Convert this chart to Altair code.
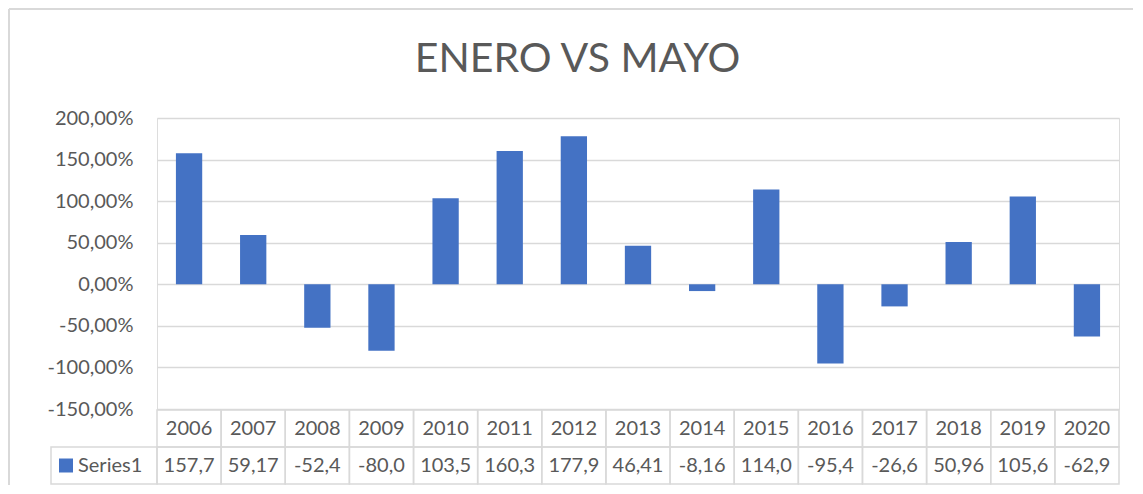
import altair as alt
import pandas as pd

years = ["2006", "2007", "2008", "2009", "2010", "2011", "2012", "2013",
         "2014", "2015", "2016", "2017", "2018", "2019", "2020"]
values = [157.7, 59.17, -52.4, -80.0, 103.5, 160.3, 177.9, 46.41,
          -8.16, 114.0, -95.4, -26.6, 50.96, 105.6, -62.9]
table_labels = ["157,7", "59,17", "-52,4", "-80,0", "103,5", "160,3", "177,9", "46,41",
                "-8,16", "114,0", "-95,4", "-26,6", "50,96", "105,6", "-62,9"]
series_name = "Series1"
title_text = "ENERO VS MAYO"
y_ticks = [-150, -100, -50, 0, 50, 100, 150, 200]

df = pd.DataFrame({"year": years, "value": values, "label": table_labels,
                   "series": [series_name] * len(years)})
df_series = pd.DataFrame({"series": [series_name]})

W, H = 962, 291
BLUE = "#4472c4"
TXT = "#595959"
GRID = "#d9d9d9"
FONT = "Lato"

xenc = alt.X("year:N", sort=years, axis=None,
             scale=alt.Scale(paddingInner=0, paddingOuter=0))

label_expr = ("replace(replace(format(datum.value, '.2f'), '.', ','), '\u2212', '-') + '%'")

base = alt.Chart(df)

bars = base.mark_bar(width=alt.RelativeBandSize(0.41)).encode(
    x=xenc,
    y=alt.Y("value:Q", stack=None,
            scale=alt.Scale(domain=[-150, 200], nice=False, zero=True),
            axis=alt.Axis(values=y_ticks, labelExpr=label_expr, title=None,
                          domain=False, ticks=False, labelPadding=24,
                          grid=True, gridColor=GRID, gridWidth=1.5,
                          labelFontSize=20, labelColor=TXT, labelFont=FONT)),
    color=alt.Color("series:N", scale=alt.Scale(range=[BLUE]),
                    legend=alt.Legend(orient="none", legendX=-101, legendY=337.5,
                                      title=None, padding=0, symbolType="square",
                                      symbolSize=196, symbolStrokeWidth=0,
                                      symbolOpacity=1, labelOffset=2,
                                      labelFontSize=20, labelFont=FONT,
                                      labelColor=TXT)),
)

year_cells = base.mark_rect(fillOpacity=0, stroke=GRID, strokeWidth=1.5).encode(
    x=xenc, y=alt.value(292), y2=alt.value(329))
year_text = base.mark_text(fontSize=20, font=FONT, color=TXT, baseline="middle").encode(
    x=xenc, y=alt.value(310.5), text="year:N")
val_cells = base.mark_rect(fillOpacity=0, stroke=GRID, strokeWidth=1.5).encode(
    x=xenc, y=alt.value(329), y2=alt.value(366))
val_text = base.mark_text(fontSize=20, font=FONT, color=TXT, baseline="middle").encode(
    x=xenc, y=alt.value(347.5), text="label:N")
series_cell = alt.Chart(df_series).mark_rect(fillOpacity=0, stroke=GRID, strokeWidth=1.5).encode(
    x=alt.value(-106), x2=alt.value(0), y=alt.value(329), y2=alt.value(366))
border_top = alt.Chart(df_series).mark_rule(stroke=GRID, strokeWidth=2).encode(
    x=alt.value(-148), x2=alt.value(990), y=alt.value(-109))
border_left = alt.Chart(df_series).mark_rule(stroke=GRID, strokeWidth=2).encode(
    x=alt.value(-148), y=alt.value(-109), y2=alt.value(400))

chart = alt.layer(border_top, border_left, bars, year_cells, val_cells, series_cell,
                  year_text, val_text).properties(
    width=W, height=H,
    padding={"left": 149, "top": 110, "right": 14, "bottom": 76},
    autosize=alt.AutoSizeParams(type="none"),
    title=alt.TitleParams(title_text, font=FONT, fontSize=41, fontWeight="normal",
                          color=TXT, anchor="middle", frame="group", dx=-60.5,
                          offset=-73),
).configure_view(stroke=None).configure(background="white")

chart.save("out.html", embed_options={"renderer": "svg", "actions": False})
